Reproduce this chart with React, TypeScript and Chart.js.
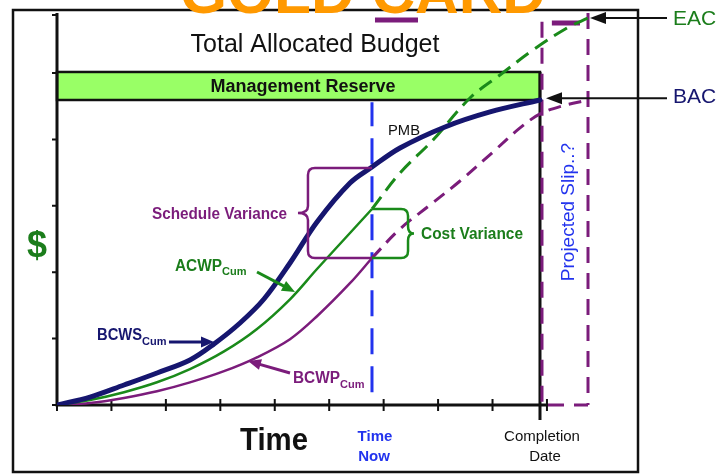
import React, { useEffect, useRef } from "react";
import { Chart, registerables } from "chart.js";
Chart.register(...registerables);

// ---- data (x: time units, y: $ units) ----
const bcwsX = [0, 0.606, 1.231, 1.837, 2.443, 2.884, 3.362, 3.802, 4.28, 4.776, 5.382, 5.786, 6.3, 7.127, 7.954, 8.872];
const bcwsY = [0, 0.12, 0.301, 0.482, 0.678, 0.919, 1.235, 1.596, 2.139, 2.756, 3.343, 3.584, 3.87, 4.187, 4.413, 4.593];

const acwpX = [0, 0.606, 1.231, 1.837, 2.443, 3.068, 3.674, 4.28, 4.776, 5.382, 5.786];
const acwpY = [0, 0.075, 0.193, 0.342, 0.541, 0.807, 1.145, 1.592, 2.048, 2.59, 2.952];

const eacX = [5.786, 6.3, 6.907, 7.586, 8.137, 8.744, 9.368, 9.754];
const eacY = [2.952, 3.494, 3.991, 4.623, 4.97, 5.346, 5.678, 5.828];

const bcwpX = [0, 0.606, 1.231, 1.837, 2.443, 3.068, 3.674, 4.28, 4.776, 5.382, 5.786];
const bcwpY = [0, 0.03, 0.107, 0.206, 0.34, 0.509, 0.718, 0.991, 1.337, 1.834, 2.214];

const projX = [5.786, 6.3, 6.852, 7.403, 8.009, 8.505, 8.872, 9.276, 9.754];
const projY = [2.214, 2.651, 3.012, 3.373, 3.81, 4.172, 4.383, 4.503, 4.593];

const xTicks = [0, 1, 2, 3, 4, 5, 6, 7, 8, 9];
const yTicks = [0, 1, 2, 3, 4, 5, 5.873];

const timeNow = 5.786;
const completion = 8.872;
const projected = 9.754;
const bac = 4.593;
const mrTop = 5.015;
const eac = 5.828;
const yMax = 5.873;

const NAVY = "#16166f";
const GREEN = "#1a8a1a";
const GREEN_T = "#1b7d1b";
const PURPLE = "#7b1c7b";
const BLUE = "#2233ee";
const FONT = '"Liberation Sans", Arial, sans-serif';

const pts = (xs: number[], ys: number[]) => xs.map((x, i) => ({ x, y: ys[i] }));

function txt(ctx: CanvasRenderingContext2D, s: string, x: number, y: number, font: string, color: string, align: CanvasTextAlign = "left", maxW?: number) {
  ctx.save();
  ctx.font = font;
  ctx.fillStyle = color;
  ctx.textAlign = align;
  ctx.textBaseline = "alphabetic";
  if (maxW) ctx.fillText(s, x, y, maxW);
  else ctx.fillText(s, x, y);
  ctx.restore();
}

function arrow(ctx: CanvasRenderingContext2D, x1: number, y1: number, x2: number, y2: number, color: string, lw: number, hl: number, hw: number) {
  const a = Math.atan2(y2 - y1, x2 - x1);
  ctx.save();
  ctx.strokeStyle = color;
  ctx.fillStyle = color;
  ctx.lineWidth = lw;
  ctx.beginPath();
  ctx.moveTo(x1, y1);
  ctx.lineTo(x2 - Math.cos(a) * hl * 0.8, y2 - Math.sin(a) * hl * 0.8);
  ctx.stroke();
  ctx.beginPath();
  ctx.moveTo(x2, y2);
  ctx.lineTo(x2 - Math.cos(a) * hl - Math.sin(a) * hw / 2, y2 - Math.sin(a) * hl + Math.cos(a) * hw / 2);
  ctx.lineTo(x2 - Math.cos(a) * hl + Math.sin(a) * hw / 2, y2 - Math.sin(a) * hl - Math.cos(a) * hw / 2);
  ctx.closePath();
  ctx.fill();
  ctx.restore();
}

function brace(ctx: CanvasRenderingContext2D, xa: number, xs: number, yTop: number, yBot: number, s: number, d: number, color: string) {
  const r = 7;
  const ym = (yTop + yBot) / 2;
  ctx.save();
  ctx.strokeStyle = color;
  ctx.lineWidth = 2.5;
  ctx.beginPath();
  ctx.moveTo(xa, yTop);
  ctx.lineTo(xs + s * r, yTop);
  ctx.quadraticCurveTo(xs, yTop, xs, yTop + r);
  ctx.lineTo(xs, ym - r);
  ctx.quadraticCurveTo(xs, ym, xs - s * d, ym);
  ctx.quadraticCurveTo(xs, ym, xs, ym + r);
  ctx.lineTo(xs, yBot - r);
  ctx.quadraticCurveTo(xs, yBot, xs + s * r, yBot);
  ctx.lineTo(xa, yBot);
  ctx.stroke();
  ctx.restore();
}

const decor = {
  id: "decor",
  beforeDatasetsDraw(chart: any) {
    const ctx: CanvasRenderingContext2D = chart.ctx;
    const X = (v: number) => chart.scales.x.getPixelForValue(v);
    const Y = (v: number) => chart.scales.y.getPixelForValue(v);
    ctx.save();
    // outer frame
    ctx.strokeStyle = "#111";
    ctx.lineWidth = 2.5;
    ctx.strokeRect(13, 10, 625, 462);
    // title (clipped at top)
    txt(ctx, "GOLD CARD", 180, 13, `bold 62px ${FONT}`, "#ff9900", "left", 366);
    // management reserve box
    const bx = X(0), bw = X(completion) - X(0), by = Y(mrTop), bh = Y(bac) - Y(mrTop);
    ctx.fillStyle = "#99ff66";
    ctx.fillRect(bx, by, bw, bh);
    ctx.strokeStyle = "#111";
    ctx.lineWidth = 2.5;
    ctx.strokeRect(bx, by, bw, bh);
    txt(ctx, "Management Reserve", 303, 92, `bold 18px ${FONT}`, "#111", "center", 217);
    txt(ctx, "Total Allocated Budget", 315, 52, `500 25px ${FONT}`, "#111", "center", 250);
    // completion line
    ctx.strokeStyle = "#111";
    ctx.lineWidth = 3;
    ctx.beginPath();
    ctx.moveTo(X(completion), Y(mrTop));
    ctx.lineTo(X(completion), Y(0) + 15);
    ctx.stroke();
    // purple dashed slip lines
    ctx.strokeStyle = PURPLE;
    ctx.lineWidth = 3;
    ctx.setLineDash([16, 10]);
    ctx.beginPath();
    ctx.moveTo(X(completion) + 2, Y(5.77));
    ctx.lineTo(X(completion) + 2, Y(0));
    ctx.moveTo(X(projected), Y(yMax) - 2);
    ctx.lineTo(X(projected), Y(0));
    ctx.stroke();
    ctx.lineDashOffset = 2;
    ctx.beginPath();
    ctx.moveTo(X(projected), Y(0));
    ctx.lineTo(X(completion), Y(0));
    ctx.stroke();
    ctx.setLineDash([]);
    ctx.lineWidth = 5;
    ctx.beginPath();
    ctx.moveTo(X(5.841), Y(5.798));
    ctx.lineTo(X(6.631), Y(5.798));
    ctx.moveTo(X(9.09), Y(5.753));
    ctx.lineTo(X(9.607), Y(5.753));
    ctx.stroke();
    // time now line
    ctx.strokeStyle = BLUE;
    ctx.lineWidth = 3;
    ctx.setLineDash([26, 12]);
    ctx.beginPath();
    ctx.moveTo(X(timeNow), Y(4.56));
    ctx.lineTo(X(timeNow), Y(0.04));
    ctx.stroke();
    ctx.setLineDash([]);
    // axes
    ctx.strokeStyle = "#111";
    ctx.lineWidth = 3;
    ctx.beginPath();
    ctx.moveTo(X(0), Y(yMax) - 2);
    ctx.lineTo(X(0), Y(0));
    ctx.lineTo(X(9) + 1, Y(0));
    ctx.stroke();
    ctx.lineWidth = 2;
    ctx.beginPath();
    yTicks.forEach((t) => {
      ctx.moveTo(X(0) - 5, Y(t));
      ctx.lineTo(X(0), Y(t));
    });
    xTicks.forEach((t) => {
      ctx.moveTo(X(t), Y(0) - 6);
      ctx.lineTo(X(t), Y(0) + 6);
    });
    ctx.stroke();
    ctx.restore();
  },
  afterDatasetsDraw(chart: any) {
    const ctx: CanvasRenderingContext2D = chart.ctx;
    const X = (v: number) => chart.scales.x.getPixelForValue(v);
    const Y = (v: number) => chart.scales.y.getPixelForValue(v);
    const tn = X(timeNow);
    const yBcws = Y(bcwsY[bcwsX.indexOf(timeNow)]);
    const yAcwp = Y(acwpY[acwpY.length - 1]);
    const yBcwp = Y(bcwpY[bcwpY.length - 1]);
    brace(ctx, tn, X(4.61), yBcws + 1, yBcwp, 1, 10, PURPLE);
    brace(ctx, tn, X(6.448), yAcwp, yBcwp, -1, 6, GREEN);
    // labels
    txt(ctx, "Schedule Variance", 152, 219, `bold 16px ${FONT}`, PURPLE, "left", 135);
    txt(ctx, "Cost Variance", 421, 239, `bold 16px ${FONT}`, GREEN_T, "left", 102);
    txt(ctx, "PMB", 388, 135, `15px ${FONT}`, "#111", "left", 32);
    txt(ctx, "ACWP", 175, 271, `bold 16px ${FONT}`, GREEN_T, "left", 47);
    txt(ctx, "Cum", 222, 275, `bold 11px ${FONT}`, GREEN_T, "left", 25);
    txt(ctx, "BCWS", 97, 340, `bold 16px ${FONT}`, NAVY, "left", 45);
    txt(ctx, "Cum", 142, 345, `bold 11px ${FONT}`, NAVY, "left", 25);
    txt(ctx, "BCWP", 293, 383, `bold 16px ${FONT}`, PURPLE, "left", 47);
    txt(ctx, "Cum", 340, 388, `bold 11px ${FONT}`, PURPLE, "left", 25);
    txt(ctx, "$", 27, 257, `bold 36px ${FONT}`, GREEN_T, "left");
    txt(ctx, "Time", 240, 450, `bold 32px ${FONT}`, "#111", "left", 68);
    txt(ctx, "Time", tn + 3, 441, `bold 15px ${FONT}`, BLUE, "center", 36);
    txt(ctx, "Now", tn + 2, 461, `bold 15px ${FONT}`, BLUE, "center", 33);
    txt(ctx, "Completion", X(completion) + 2, 441, `15px ${FONT}`, "#111", "center", 84);
    txt(ctx, "Date", X(completion) + 5, 461, `15px ${FONT}`, "#111", "center", 35);
    txt(ctx, "EAC", 673, 25, `21px ${FONT}`, GREEN_T, "left", 44);
    txt(ctx, "BAC", 673, 103, `21px ${FONT}`, NAVY, "left", 44);
    // rotated label
    ctx.save();
    ctx.translate(574, 212);
    ctx.rotate(-Math.PI / 2);
    txt(ctx, "Projected Slip..?", 0, 0, `500 19px ${FONT}`, BLUE, "center", 150);
    ctx.restore();
    // arrows
    arrow(ctx, X(2.057), Y(0.949), X(2.884), Y(0.949), NAVY, 3, 13, 11);
    arrow(ctx, X(3.674), Y(2.003), X(4.372), Y(1.702), GREEN, 3, 13, 11);
    arrow(ctx, X(4.28), Y(0.482), X(3.508), Y(0.663), PURPLE, 3, 13, 11);
    arrow(ctx, 667, Y(eac), X(projected) + 2, Y(eac), "#111", 2, 16, 12);
    arrow(ctx, 667, Y(4.62), X(completion) + 6, Y(4.62), "#111", 2, 16, 12);
  },
};

export default function App() {
  const ref = useRef<HTMLCanvasElement | null>(null);
  useEffect(() => {
    if (!ref.current) return;
    const chart = new Chart(ref.current, {
      type: "line",
      data: {
        datasets: [
          { label: "BCWS", data: pts(bcwsX, bcwsY), borderColor: NAVY, borderWidth: 5, pointRadius: 0, tension: 0.35, borderCapStyle: "round" },
          { label: "ACWP", data: pts(acwpX, acwpY), borderColor: GREEN, borderWidth: 2.5, pointRadius: 0, tension: 0.35 },
          { label: "EAC", data: pts(eacX, eacY), borderColor: GREEN, borderWidth: 3, borderDash: [15, 8], pointRadius: 0, tension: 0.35 },
          { label: "BCWP", data: pts(bcwpX, bcwpY), borderColor: PURPLE, borderWidth: 2.5, pointRadius: 0, tension: 0.35 },
          { label: "Projected", data: pts(projX, projY), borderColor: PURPLE, borderWidth: 3, borderDash: [13, 8], pointRadius: 0, tension: 0.35 },
        ] as any,
      },
      options: {
        responsive: false,
        animation: false,
        events: [],
        layout: { padding: { left: 57, top: 15, right: 717 - 57 - 12 * 54.44, bottom: 70 } },
        scales: {
          x: { type: "linear", min: 0, max: 12, display: false },
          y: { type: "linear", min: 0, max: yMax, display: false },
        },
        plugins: { legend: { display: false }, tooltip: { enabled: false }, title: { display: false } },
      } as any,
      plugins: [decor],
    });
    return () => chart.destroy();
  }, []);
  return (
    <div style={{ position: "absolute", left: 0, top: 0, width: 717, height: 475, background: "#fff" }}>
      <canvas ref={ref} width={717} height={475} style={{ display: "block" }} />
    </div>
  );
}
